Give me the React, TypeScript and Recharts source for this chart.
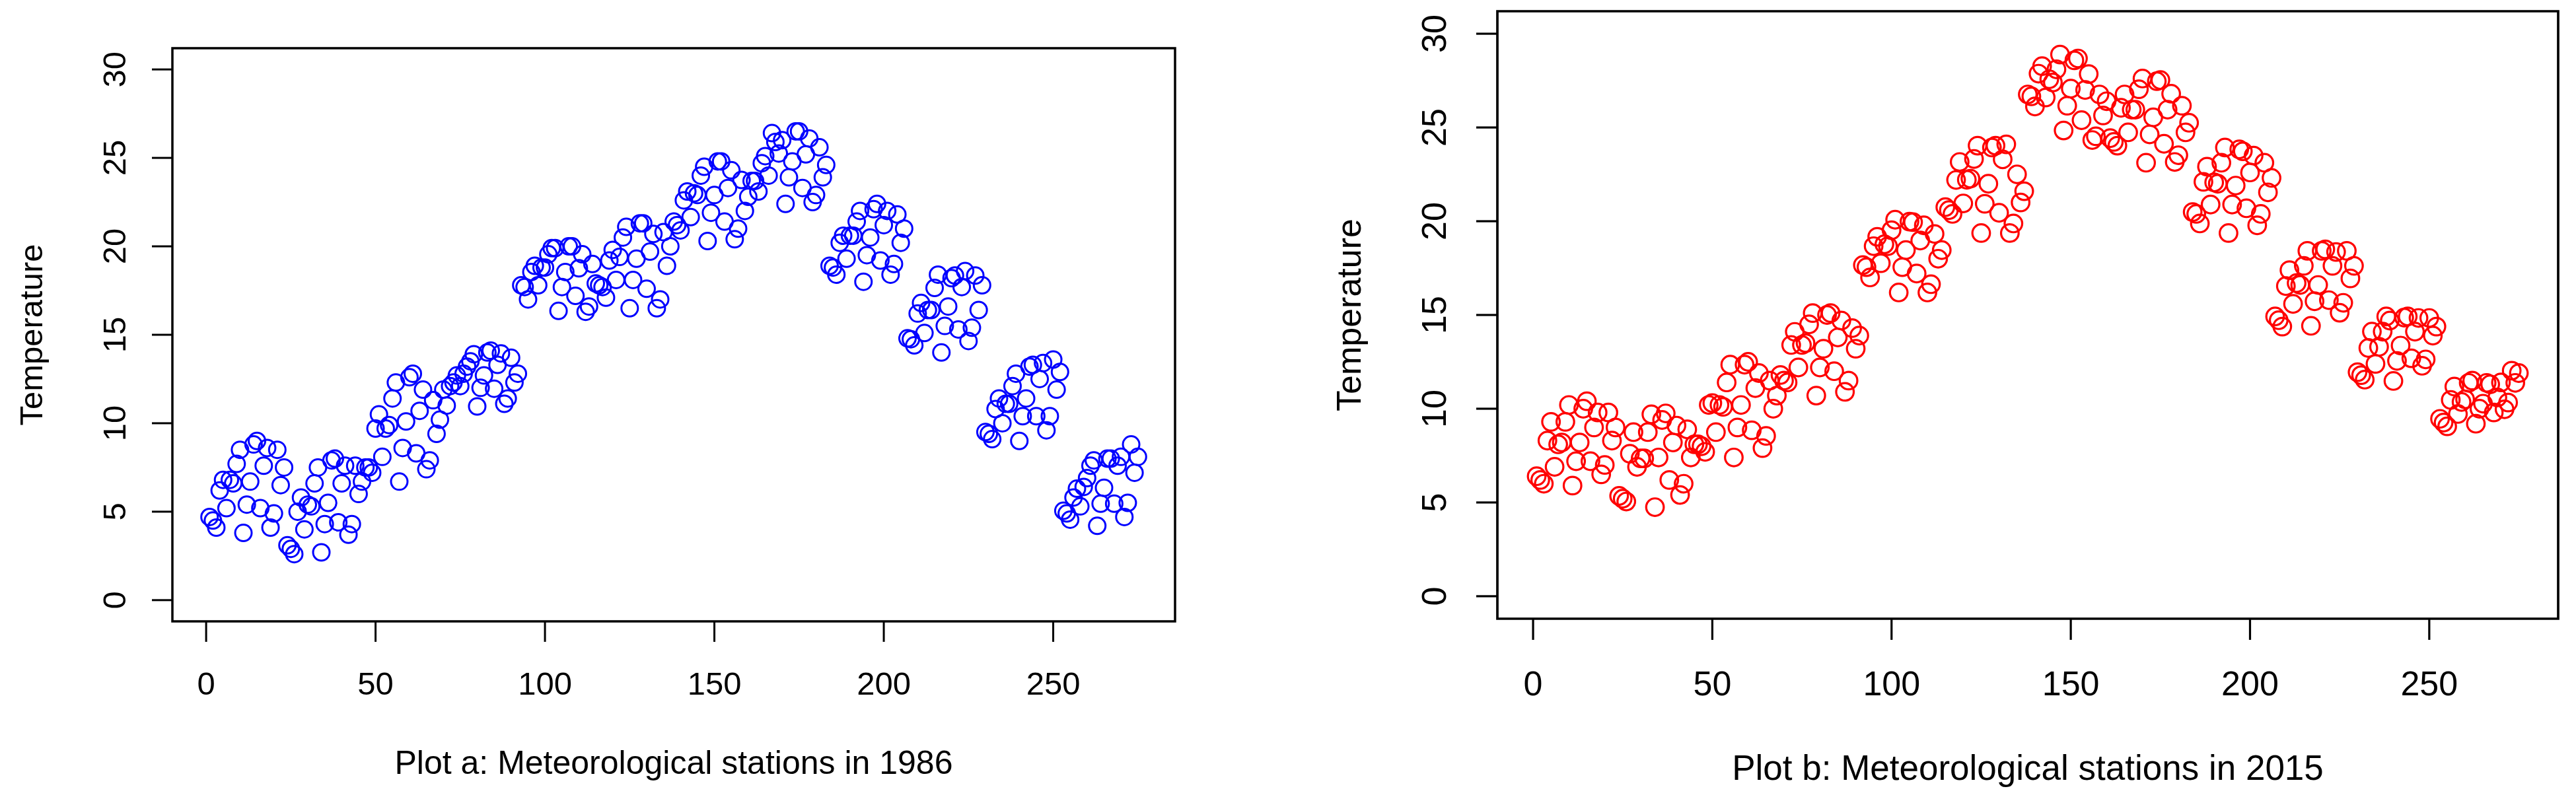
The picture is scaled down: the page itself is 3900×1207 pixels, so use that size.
import React from 'react'
import { ScatterChart, Scatter, XAxis, YAxis, ReferenceArea } from 'recharts'

// station temperatures, one block per group of stations
const a1986_01 = [4.7, 4.5, 4.1, 6.2, 6.8, 5.2, 6.8, 6.6, 7.7, 8.5, 3.8, 5.4, 6.7, 8.8, 9.0, 5.2, 7.6, 8.6, 4.1, 4.9, 8.5, 6.5, 7.5]
const a1986_02 = [3.1, 2.9, 2.6, 5.0, 5.8, 4.0, 5.4, 5.3, 6.6, 7.5, 2.7, 4.3, 5.5, 7.9, 8.0, 4.4, 6.6, 7.6, 3.7, 4.3, 7.6, 6.0, 6.7]
const a1986_03 = [7.5, 7.5, 7.2, 9.7, 10.5, 8.1, 9.7, 9.9, 11.4, 12.3, 6.7, 8.6, 10.1, 12.6, 12.8, 8.3, 10.7, 11.9, 7.4, 7.9, 11.3, 9.4, 10.2]
const a1986_04 = [11.9, 11.0, 12.1, 12.3, 12.7, 12.1, 12.8, 13.2, 13.5, 13.9, 10.95, 12.0, 12.7, 14.0, 14.1, 11.95, 13.3, 13.95, 11.1, 11.4, 13.7, 12.3, 12.8]
const a1986_05 = [17.8, 17.7, 17.0, 18.55, 18.9, 17.8, 18.8, 18.8, 19.55, 19.9, 19.9, 16.35, 17.7, 18.55, 20.0, 20.0, 17.2, 18.76, 19.55, 16.3, 16.6, 19.0]
const a1986_06 = [17.9, 17.8, 17.7, 17.1, 19.2, 19.8, 18.1, 19.4, 20.5, 21.1, 16.5, 18.1, 19.3, 21.3, 21.3, 17.6, 19.7, 20.7, 16.5, 17.0, 20.8, 18.9, 20.0]
const a1986_07 = [21.4, 21.2, 20.9, 22.6, 23.1, 21.65, 23.0, 22.9, 24.0, 24.5, 20.3, 21.9, 22.9, 24.8, 24.8, 21.4, 23.3, 24.3, 20.4, 21.0, 23.75, 22.0, 22.8]
const a1986_08 = [23.7, 23.7, 23.1, 24.7, 25.1, 24.0, 26.4, 25.9, 25.25, 26.0, 22.4, 23.9, 24.8, 26.5, 26.5, 23.3, 25.2, 26.1, 22.5, 22.9, 25.6, 23.9, 24.6]
const a1986_09 = [18.9, 18.8, 18.4, 20.2, 20.6, 19.3, 20.6, 20.6, 21.4, 22.0, 18.0, 19.5, 20.5, 22.1, 22.4, 19.2, 21.2, 22.0, 18.4, 19.0, 21.8, 20.2, 21.0]
const a1986_10 = [14.8, 14.75, 14.4, 16.2, 16.8, 15.1, 16.4, 16.4, 17.65, 18.4, 14.0, 15.5, 16.6, 18.2, 18.35, 15.3, 17.7, 18.6, 14.65, 15.4, 18.35, 16.4, 17.8]
const a1986_11 = [9.5, 9.4, 9.1, 10.8, 11.4, 10.0, 11.1, 11.1, 12.1, 12.8, 9.0, 10.4, 11.4, 13.2, 13.3, 10.4, 12.5, 13.4, 9.6, 10.4, 13.6, 11.9, 12.9]
const a1986_12 = [5.05, 4.9, 4.55, 5.8, 6.3, 5.3, 6.4, 6.9, 7.6, 7.9, 4.2, 5.45, 6.35, 8.0, 8.0, 5.45, 7.6, 8.1, 4.7, 5.5, 8.8, 7.2, 8.1]

const b2015_01 = [6.4, 6.2, 6.0, 8.3, 9.3, 6.9, 8.1, 8.2, 9.3, 10.2, 5.9, 7.2, 8.2, 10.0, 10.4, 7.2, 9.0, 9.8, 6.5, 7.0, 9.8, 8.3, 9.0]
const b2015_02 = [5.35, 5.2, 5.05, 7.6, 8.75, 6.9, 7.35, 7.35, 8.75, 9.7, 4.75, 7.4, 9.4, 9.75, 6.2, 8.2, 9.1, 5.4, 6.0, 8.9, 7.4, 8.1]
const b2015_03 = [8.1, 8.0, 7.7, 10.2, 10.3, 8.75, 10.2, 10.1, 11.4, 12.35, 7.4, 9.0, 10.2, 12.35, 12.5, 8.85, 11.1, 11.9, 7.9, 8.55, 11.5, 10.0, 10.7]
const b2015_04 = [11.8, 11.5, 11.4, 13.4, 14.1, 12.2, 13.4, 13.5, 14.5, 15.1, 10.7, 12.2, 13.2, 15.0, 15.1, 12.0, 13.8, 14.7, 10.9, 11.5, 14.3, 13.2, 13.9]
const b2015_05 = [17.66, 17.55, 17.0, 18.67, 19.17, 17.76, 18.77, 18.67, 19.52, 20.08, 16.2, 17.55, 18.46, 19.98, 19.95, 17.21, 18.97, 19.78, 16.2, 16.64, 19.32, 18.0, 18.46]
const b2015_06 = [20.75, 20.59, 20.39, 22.2, 23.16, 20.95, 22.21, 22.27, 23.32, 24.03, 19.37, 20.93, 22.0, 23.93, 24.03, 20.45, 23.3, 24.1, 19.37, 19.88, 22.5, 21.0, 21.6]
const b2015_07 = [26.76, 26.66, 26.12, 27.87, 28.27, 26.6, 27.57, 27.4, 28.1, 28.89, 24.84, 26.16, 27.07, 28.58, 28.68, 25.39, 27.0, 27.85, 24.33, 24.53, 26.76, 25.64, 26.4]
const b2015_08 = [24.43, 24.23, 24.03, 26.05, 26.76, 24.74, 25.95, 25.95, 27.04, 27.61, 23.12, 24.63, 25.54, 27.47, 27.53, 24.13, 25.95, 26.8, 23.16, 23.52, 26.16, 24.74, 25.25]
const b2015_09 = [20.49, 20.39, 19.88, 22.1, 22.91, 20.89, 22.07, 22.0, 23.12, 23.93, 19.37, 20.89, 21.9, 23.83, 23.73, 20.69, 22.6, 23.5, 19.78, 20.39, 23.12, 21.54, 22.31]
const b2015_10 = [14.92, 14.72, 14.38, 16.54, 17.39, 15.59, 16.7, 16.6, 17.62, 18.42, 14.42, 15.73, 16.6, 18.42, 18.5, 15.79, 17.62, 18.36, 15.12, 15.65, 18.42, 16.95, 17.62]
const b2015_11 = [11.95, 11.79, 11.55, 13.24, 14.11, 12.39, 13.3, 14.11, 14.92, 14.7, 11.48, 12.55, 13.37, 14.86, 14.92, 12.69, 14.11, 14.84, 12.29, 12.63, 14.84, 13.9, 14.38]
const b2015_12 = [9.46, 9.26, 9.06, 10.47, 11.18, 9.72, 10.36, 10.5, 11.38, 11.5, 9.2, 10.0, 10.27, 11.38, 11.3, 9.8, 10.6, 11.4, 9.97, 10.33, 12.03, 11.38, 11.9]

const temps1986 = [
  ...a1986_01, ...a1986_02, ...a1986_03, ...a1986_04, ...a1986_05, ...a1986_06,
  ...a1986_07, ...a1986_08, ...a1986_09, ...a1986_10, ...a1986_11, ...a1986_12,
]
const temps2015 = [
  ...b2015_01, ...b2015_02, ...b2015_03, ...b2015_04, ...b2015_05, ...b2015_06,
  ...b2015_07, ...b2015_08, ...b2015_09, ...b2015_10, ...b2015_11, ...b2015_12,
]

const xTicks = [0, 50, 100, 150, 200, 250]
const yTicks = [0, 5, 10, 15, 20, 25, 30]

const font = '"Liberation Sans", Arial, Helvetica, sans-serif'

// R-style axis extents: data range plus 4% on each side
const xDomain = [1 - 0.04 * 274, 275 + 0.04 * 274]
const yDomain = [-1.2, 31.2]

interface PanelProps {
  temps: number[]
  color: string
  title: string
  left: number
  margin: { top: number; right: number; bottom: number; left: number }
  fontSize: number
  titleSize: number
  radius: number
  lw: number
  tickLen: number
  xLabelY: number
  yLabelX: number
  ylabX: number
  ylabY: number
  titleX: number
  titleY: number
}

function Panel(p: PanelProps) {
  const data = p.temps.map((t, i) => ({ day: i + 1, temp: t }))

  const XTick = (props: any) => (
    <text x={props.x} y={p.xLabelY} textAnchor="middle" fontSize={p.fontSize} fontFamily={font} fill="#000">
      {props.payload.value}
    </text>
  )
  const YTick = (props: any) => (
    <text
      x={p.yLabelX}
      y={props.y}
      transform={`rotate(-90 ${p.yLabelX} ${props.y})`}
      textAnchor="middle"
      fontSize={p.fontSize}
      fontFamily={font}
      fill="#000"
    >
      {props.payload.value}
    </text>
  )
  const Title = () => (
    <text x={p.titleX} y={p.titleY} textAnchor="middle" fontSize={p.titleSize} fontFamily={font} fill="#000">
      {p.title}
    </text>
  )
  const YLab = () => (
    <text
      x={p.ylabX}
      y={p.ylabY}
      transform={`rotate(-90 ${p.ylabX} ${p.ylabY})`}
      textAnchor="middle"
      fontSize={p.fontSize}
      fontFamily={font}
      fill="#000"
    >
      Temperature
    </text>
  )

  return (
    <div style={{ position: 'absolute', top: 0, left: p.left, width: 1950, height: 1207 }}>
      <ScatterChart width={1950} height={1207} margin={p.margin}>
        <XAxis
          type="number"
          dataKey="day"
          domain={xDomain}
          ticks={xTicks}
          allowDataOverflow
          axisLine={false}
          tickSize={p.tickLen}
          tickLine={{ stroke: '#000', strokeWidth: p.lw }}
          tick={XTick}
          height={60}
          label={<Title />}
        />
        <YAxis
          type="number"
          dataKey="temp"
          domain={yDomain}
          ticks={yTicks}
          allowDataOverflow
          axisLine={false}
          tickSize={p.tickLen}
          tickLine={{ stroke: '#000', strokeWidth: p.lw }}
          tick={YTick}
          width={60}
          label={<YLab />}
        />
        <ReferenceArea
          x1={xDomain[0]}
          x2={xDomain[1]}
          y1={yDomain[0]}
          y2={yDomain[1]}
          fill="none"
          fillOpacity={0}
          stroke="#000"
          strokeWidth={p.lw + 0.5}
          ifOverflow="visible"
        />
        <Scatter
          data={data}
          isAnimationActive={false}
          shape={(s: any) => (
            <circle cx={s.cx} cy={s.cy} r={p.radius} fill="none" stroke={p.color} strokeWidth={p.lw} />
          )}
        />
      </ScatterChart>
    </div>
  )
}

export default function App() {
  return (
    <div style={{ position: 'absolute', top: 0, left: 0, width: 3900, height: 1207, background: '#fff', overflow: 'hidden' }}>
      <Panel
        temps={temps1986}
        color="#0000FF"
        title="Plot a: Meteorological stations in 1986"
        left={0}
        margin={{ top: 73, right: 171, bottom: 206, left: 201 }}
        fontSize={49}
        titleSize={50}
        radius={12.5}
        lw={3}
        tickLen={31}
        xLabelY={1052}
        yLabelX={190}
        ylabX={64}
        ylabY={507}
        titleX={1020}
        titleY={1172}
      />
      <Panel
        temps={temps2015}
        color="#FF0000"
        title="Plot b: Meteorological stations in 2015"
        left={1950}
        margin={{ top: 17, right: 27, bottom: 210, left: 257 }}
        fontSize={52}
        titleSize={53}
        radius={13.3}
        lw={3.2}
        tickLen={32}
        xLabelY={1053}
        yLabelX={239}
        ylabX={110}
        ylabY={477}
        titleX={1120}
        titleY={1181}
      />
    </div>
  )
}
